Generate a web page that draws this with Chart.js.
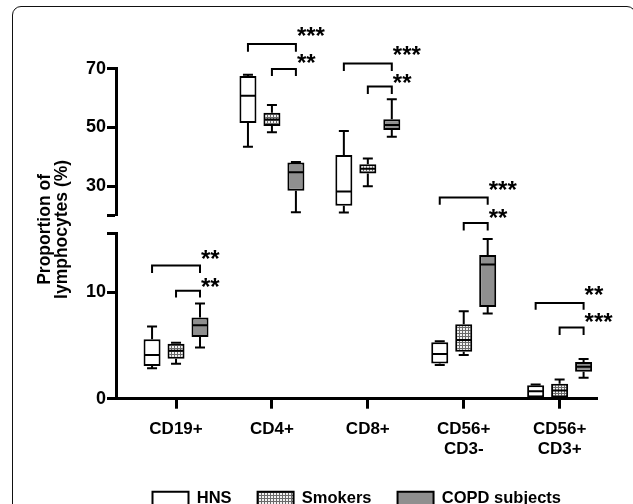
<!DOCTYPE html>
<html>
<head>
<meta charset="utf-8">
<script src="https://cdn.jsdelivr.net/npm/chart.js@4.4.0/dist/chart.umd.min.js"></script>
<style>
  html, body { margin: 0; padding: 0; background: #fff; overflow: hidden; width: 633px; height: 504px; }
  .frame { position: absolute; left: 12px; top: 6px; width: 622px; height: 600px;
           border: 1.5px solid #111; border-radius: 9px; }
  #chart { position: absolute; left: 0; top: 0; }
</style>
</head>
<body>
<div class="frame"></div>
<canvas id="chart" width="633" height="530"></canvas>
<script>
// ------------------------------------------------------------
// Data
// ------------------------------------------------------------

const categories = [['CD19+'], ['CD4+'], ['CD8+'], ['CD56+', 'CD3-'], ['CD56+', 'CD3+']];
// which y segment each category sits in
const panelOf = ['yLow', 'yTop', 'yTop', 'yLow', 'yLow'];

// [min, q1, median, q3, max] per category
const hnsStats = [
  [2.85, 3.07, 4.1, 5.58, 6.77],
  [43.4, 51.5, 60.8, 67.5, 67.9],
  [21.0, 23.3, 28.2, 40.6, 48.8],
  [3.16, 3.3, 4.2, 5.3, 5.4],
  [0.05, 0.14, 0.71, 1.27, 1.34]
];
const smokerStats = [
  [3.28, 3.75, 4.5, 5.17, 5.26],
  [48.4, 50.5, 52.7, 55.0, 57.6],
  [30.0, 34.3, 35.9, 37.5, 39.4],
  [4.1, 4.4, 5.5, 7.0, 8.2],
  [0.05, 0.14, 0.77, 1.4, 1.81]
];
const copdStats = [
  [4.8, 5.8, 6.9, 7.62, 8.94],
  [21.1, 28.4, 34.7, 38.1, 38.2],
  [46.8, 49.1, 50.8, 52.8, 59.6],
  [8.0, 8.6, 12.6, 13.5, 15.0],
  [1.96, 2.53, 3.0, 3.44, 3.73]
];

const topTicks = [20, 30, 50, 70];
const lowTicks = [0, 10, 15.5];

// significance brackets: category, left group (0 HNS, 1 Smokers) -> COPD
const sigCat = [0, 0, 1, 1, 2, 2, 3, 3, 4, 4];
const sigFrom = [0, 1, 0, 1, 0, 1, 0, 1, 0, 1];
const sigTop = [12.5, 10.14, 78.4, 69.9, 71.8, 63.9, 18.9, 16.5, 8.98, 6.68];
const sigLeg = [11.8, 9.5, 75.8, 67.5, 69.2, 61.4, 18.2, 15.8, 8.35, 5.99];
const sigText = ['**', '**', '***', '**', '***', '**', '***', '**', '**', '***'];
const sigTextY = [13.66, 11.0, 83.2, 73.9, 76.6, 67.1, 20.1, 17.5, 10.3, 7.72];

// ------------------------------------------------------------
// Styles
// ------------------------------------------------------------

const FONT = "'Liberation Sans', Arial, sans-serif";

// gray mesh with light dots, like the smokers fill
function makeDotPattern() {
  const c = document.createElement('canvas');
  c.width = 3;
  c.height = 3;
  const g = c.getContext('2d');
  g.fillStyle = '#f2f2f2';
  g.fillRect(0, 0, 3, 3);
  g.fillStyle = '#6a6a6a';
  g.fillRect(0, 0, 3, 1);
  g.fillRect(0, 0, 1, 3);
  return document.getElementById('chart').getContext('2d').createPattern(c, 'repeat');
}

const groups = [
  { label: 'HNS', stats: hnsStats, fill: '#ffffff' },
  { label: 'Smokers', stats: smokerStats, fill: makeDotPattern() },
  { label: 'COPD subjects', stats: copdStats, fill: '#8f8f8f' }
];

// one dataset per group and y segment
const datasets = [];
['yTop', 'yLow'].forEach(panel => {
  groups.forEach((grp, g) => {
    const idx = categories.map((_, i) => i).filter(i => panelOf[i] === panel);
    datasets.push({
      label: grp.label,
      group: g,
      yAxisID: panel,
      data: idx.map(i => ({ x: i, y: [grp.stats[i][1], grp.stats[i][3]] })),
      stats: idx.map(i => grp.stats[i]),
      backgroundColor: grp.fill,
      borderColor: '#000',
      borderWidth: 2,
      borderSkipped: false,
      categoryPercentage: 0.75,
      barPercentage: 0.71,
      skipNull: true
    });
  });
});

// ------------------------------------------------------------
// Plugins: whiskers/medians and significance brackets
// ------------------------------------------------------------

const whiskerPlugin = {
  id: 'whiskers',
  afterDatasetsDraw(chart) {
    const ctx = chart.ctx;
    ctx.save();
    ctx.strokeStyle = '#000';
    ctx.lineWidth = 2;
    chart.data.datasets.forEach((ds, di) => {
      const meta = chart.getDatasetMeta(di);
      const ys = chart.scales[ds.yAxisID];
      meta.data.forEach((bar, i) => {
        const [lo, q1, med, q3, hi] = ds.stats[i];
        const x = bar.x;
        const half = bar.width / 2 - 1;
        const cap = 5;
        ctx.beginPath();
        ctx.moveTo(x - half, ys.getPixelForValue(med));
        ctx.lineTo(x + half, ys.getPixelForValue(med));
        ctx.moveTo(x, ys.getPixelForValue(q3));
        ctx.lineTo(x, ys.getPixelForValue(hi));
        ctx.moveTo(x - cap, ys.getPixelForValue(hi));
        ctx.lineTo(x + cap, ys.getPixelForValue(hi));
        ctx.moveTo(x, ys.getPixelForValue(q1));
        ctx.lineTo(x, ys.getPixelForValue(lo));
        ctx.moveTo(x - cap, ys.getPixelForValue(lo));
        ctx.lineTo(x + cap, ys.getPixelForValue(lo));
        ctx.stroke();
      });
    });
    ctx.restore();
  }
};

function groupX(chart, cat, g) {
  const panel = panelOf[cat];
  const di = chart.data.datasets.findIndex(d => d.yAxisID === panel && d.group === g);
  const ds = chart.data.datasets[di];
  const i = ds.data.findIndex(p => p.x === cat);
  return chart.getDatasetMeta(di).data[i].x;
}

const bracketPlugin = {
  id: 'brackets',
  afterDatasetsDraw(chart) {
    const ctx = chart.ctx;
    const fs = 24;
    ctx.save();
    ctx.strokeStyle = '#000';
    ctx.fillStyle = '#000';
    ctx.lineWidth = 2;
    ctx.font = `bold ${fs}px ${FONT}`;
    ctx.textAlign = 'left';
    ctx.textBaseline = 'alphabetic';
    sigCat.forEach((cat, k) => {
      const ys = chart.scales[panelOf[cat]];
      const x1 = groupX(chart, cat, sigFrom[k]);
      const x2 = groupX(chart, cat, 2);
      const yT = ys.getPixelForValue(sigTop[k]);
      const yL = ys.getPixelForValue(sigLeg[k]);
      ctx.beginPath();
      ctx.moveTo(x1, yL);
      ctx.lineTo(x1, yT);
      ctx.lineTo(x2, yT);
      ctx.lineTo(x2, yL);
      ctx.stroke();
      ctx.fillText(sigText[k], x2 + 1, ys.getPixelForValue(sigTextY[k]) + fs * 0.57);
    });
    ctx.restore();
  }
};

// ------------------------------------------------------------
// Chart
// ------------------------------------------------------------

const yTickStyle = {
  color: '#000',
  padding: 1,
  font: { family: FONT, size: 18, weight: 'bold' }
};
const yGrid = {
  display: true,
  drawOnChartArea: false,
  drawTicks: true,
  tickLength: 9,
  tickWidth: 3,
  tickColor: '#000'
};

new Chart(document.getElementById('chart'), {
  type: 'bar',
  data: { datasets },
  plugins: [whiskerPlugin, bracketPlugin],
  options: {
    responsive: false,
    animation: false,
    layout: { padding: { left: 0, top: 68.7, right: 35.5, bottom: 13 } },
    scales: {
      x: {
        type: 'linear',
        min: -0.626,
        max: 4.395,
        offset: false,
        afterBuildTicks: s => { s.ticks = categories.map((_, i) => ({ value: i })); },
        afterFit: s => { s.height -= 5; },
        ticks: {
          color: '#000',
          padding: 10,
          maxRotation: 0,
          autoSkip: false,
          font: { family: FONT, size: 17, weight: 'bold' },
          callback: v => categories[v]
        },
        grid: {
          display: true,
          offset: false,
          drawOnChartArea: false,
          tickLength: 10,
          tickWidth: 3,
          tickColor: '#000'
        },
        border: { display: true, width: 3, color: '#000' }
      },
      yTop: {
        type: 'linear',
        position: 'left',
        stack: 'y',
        stackWeight: 146.3,
        weight: 3,
        min: 20,
        max: 70,
        afterBuildTicks: s => { s.ticks = topTicks.map(v => ({ value: v })); },
        ticks: Object.assign({ callback: v => (v === 20 ? '' : v) }, yTickStyle),
        grid: yGrid,
        border: { display: true, width: 3, color: '#000' }
      },
      yGap: {
        type: 'linear',
        position: 'left',
        stack: 'y',
        stackWeight: 18,
        weight: 2,
        min: 0,
        max: 1,
        ticks: { display: false },
        grid: { display: false, drawTicks: false },
        border: { display: false },
        title: {
          display: true,
          text: ['Proportion of  ', 'lymphocytes (%)  '],
          color: '#000',
          font: { family: FONT, size: 17.5, weight: 'bold', lineHeight: 1.0 },
          padding: { top: 36, bottom: 45 }
        }
      },
      yLow: {
        type: 'linear',
        position: 'left',
        stack: 'y',
        stackWeight: 164.5,
        weight: 1,
        min: 0,
        max: 15.5,
        afterBuildTicks: s => { s.ticks = lowTicks.map(v => ({ value: v })); },
        ticks: Object.assign({ callback: v => (v === 15.5 ? '' : v) }, yTickStyle),
        grid: yGrid,
        border: { display: true, width: 3, color: '#000' }
      }
    },
    plugins: {
      tooltip: { enabled: false },
      legend: {
        position: 'bottom',
        fullSize: false,
        labels: {
          color: '#000',
          boxWidth: 36,
          boxHeight: 14,
          padding: 26,
          font: { family: FONT, size: 16.5, weight: 'bold' },
          filter: item => item.datasetIndex < 3
        }
      }
    }
  }
});
</script>
</body>
</html>
